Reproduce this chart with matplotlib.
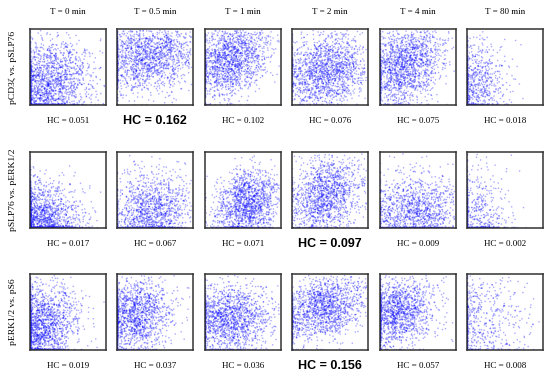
import matplotlib
matplotlib.use('Agg')

import matplotlib.pyplot as plt
import numpy as np

# column / row labels
times = ['T = 0 min', 'T = 0.5 min', 'T = 1 min', 'T = 2 min', 'T = 4 min', 'T = 80 min']
pairs = ['pCD3ζ vs. pSLP76', 'pSLP76 vs. pERK1/2', 'pERK1/2 vs. pS6']

# HC values per row, the largest one of each row is drawn bold
hc_row1 = [0.051, 0.162, 0.102, 0.076, 0.075, 0.018]
hc_row2 = [0.017, 0.067, 0.071, 0.097, 0.009, 0.002]
hc_row3 = [0.019, 0.037, 0.036, 0.156, 0.057, 0.008]
hc_vals = [hc_row1, hc_row2, hc_row3]

# cloud shape: centre x, centre y, spread x, spread y, correlation, count
cx_vals = [[0.20, 0.40, 0.33, 0.45, 0.30, 0.06],
           [0.12, 0.45, 0.55, 0.45, 0.45, 0.05],
           [0.10, 0.20, 0.30, 0.40, 0.20, 0.10]]
cy_vals = [[0.28, 0.65, 0.60, 0.45, 0.50, 0.25],
           [0.10, 0.20, 0.30, 0.42, 0.20, 0.12],
           [0.30, 0.45, 0.40, 0.55, 0.50, 0.35]]
sx_vals = [[0.30, 0.34, 0.26, 0.28, 0.28, 0.22],
           [0.28, 0.28, 0.22, 0.24, 0.32, 0.25],
           [0.25, 0.28, 0.28, 0.32, 0.27, 0.35]]
sy_vals = [[0.30, 0.24, 0.26, 0.25, 0.28, 0.30],
           [0.26, 0.26, 0.24, 0.26, 0.25, 0.35],
           [0.28, 0.25, 0.23, 0.23, 0.23, 0.35]]
rho_vals = [[0.15, 0.15, 0.30, 0.15, 0.30, 0.05],
            [-0.1, 0.10, 0.20, 0.25, 0.05, 0.00],
            [0.15, 0.15, 0.10, 0.40, 0.15, 0.05]]
n_vals = [[2000, 1700, 1600, 1600, 1700, 900],
          [2000, 1400, 1500, 1400, 1400, 750],
          [2000, 1600, 1600, 1600, 1600, 750]]

col_left = [30, 117, 205, 292, 380, 467]
row_top = [29, 152, 274]
W, H = 550, 378
box = 76

rng = np.random.default_rng(3)
fig = plt.figure(figsize=(5.5, 3.78), dpi=100)

for r in range(3):
    for c in range(6):
        ax = fig.add_axes([col_left[c] / W, 1 - (row_top[r] + box) / H, box / W, box / H])
        sx, sy, rho = sx_vals[r][c], sy_vals[r][c], rho_vals[r][c]
        cov = [[sx * sx, rho * sx * sy], [rho * sx * sy, sy * sy]]
        pts = rng.multivariate_normal([cx_vals[r][c], cy_vals[r][c]], cov, n_vals[r][c])
        pts = pts[(pts[:, 0] < 0.98) & (pts[:, 1] < 0.98)]
        pts = np.clip(pts, 0.006, None)  # events pile up on the axes
        ax.scatter(pts[:, 0], pts[:, 1], s=1.3, c='blue', alpha=0.33, edgecolors='none')
        ax.set_xlim(0, 1)
        ax.set_ylim(0, 1)
        ax.set_xticks([])
        ax.set_yticks([])
        for sp in ax.spines.values():
            sp.set_linewidth(1.1)
            sp.set_color('#333333')

        hc = hc_vals[r][c]
        xc = (col_left[c] + box / 2) / W
        yt = 1 - (row_top[r] + box + 16) / H
        if hc == max(hc_vals[r]):
            fig.text(xc, yt, f'HC = {hc:.3f}', ha='center', va='center',
                     fontsize=9, fontweight='bold', family='Liberation Sans')
        else:
            fig.text(xc, yt, f'HC = {hc:.3f}', ha='center', va='center',
                     fontsize=6.5, family='Liberation Serif')

    fig.text(13 / W, 1 - (row_top[r] + box / 2) / H, pairs[r], rotation=90,
             ha='center', va='center', fontsize=6.8, family='Liberation Serif')

for c in range(6):
    fig.text((col_left[c] + box / 2) / W, 1 - 12 / H, times[c], ha='center', va='center',
             fontsize=6.5, family='Liberation Serif')

plt.savefig('out.png', dpi=100)
